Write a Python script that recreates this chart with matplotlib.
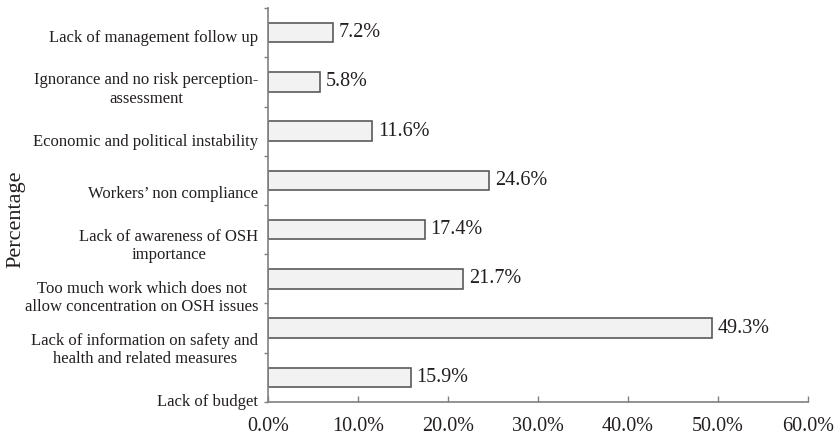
import numpy as np
import matplotlib.pyplot as plt

# barriers to OSH implementation, bottom to top
categories = [
    'Lack of budget',
    'Lack of information on safety and\nhealth and related measures',
    'Too much work which does not\nallow concentration on OSH issues',
    'Lack of awareness of OSH\nimportance',
    "Workers\u2019 non compliance",
    'Economic and political instability',
    'Ignorance and no risk perception-\nassessment',
    'Lack of management follow up',
]
percent = [15.9, 49.3, 21.7, 17.4, 24.6, 11.6, 5.8, 7.2]
xticks = [0, 10, 20, 30, 40, 50, 60]

plt.rcParams['font.family'] = ['Liberation Serif', 'DejaVu Serif']
text_color = '#231f20'

fig = plt.figure(figsize=(8.38, 4.4), dpi=100)
ax = fig.add_axes([0.3198, 0.0864, 0.6444, 0.8954])

y = np.arange(len(categories))
ax.barh(y, percent, height=0.40, color='#f2f2f2', edgecolor='#5a5a5a',
        linewidth=1.2, zorder=2)

for yi, v in zip(y, percent):
    ax.annotate(f'{v:.1f}%', (v, yi), xytext=(4, 0), textcoords='offset points',
                va='center', ha='left', fontsize=14.5, color=text_color)

ax.set_xlim(0, 60)
ax.set_ylim(-0.5, len(categories) - 0.5)
ax.set_xticks(xticks)
ax.set_xticklabels([f'{t:.1f}%' for t in xticks], fontsize=14.5, color=text_color)
ax.tick_params(axis='x', direction='in', length=4, width=1, color='#808080', pad=11)

# ticks on category boundaries, labels spread evenly down the axis
ax.set_yticks(np.arange(-0.5, len(categories), 1.0))
ax.set_yticklabels([])
ax.tick_params(axis='y', direction='out', length=3, width=1, color='#808080')
label_y = np.linspace(-0.5, 6.9, len(categories))
for ly, name in zip(label_y, categories):
    ax.text(-0.018, ly, name, transform=ax.get_yaxis_transform(),
            ha='right', va='center', multialignment='center',
            fontsize=12, color=text_color, linespacing=1.2)

ax.set_ylabel('Percentage', fontsize=16, color=text_color)
ax.yaxis.set_label_coords(-0.45, 0.464)

for side in ['top', 'right']:
    ax.spines[side].set_visible(False)
for side in ['left', 'bottom']:
    ax.spines[side].set_color('#808080')
    ax.spines[side].set_linewidth(1.2)

fig.savefig('out.png', dpi=100)
